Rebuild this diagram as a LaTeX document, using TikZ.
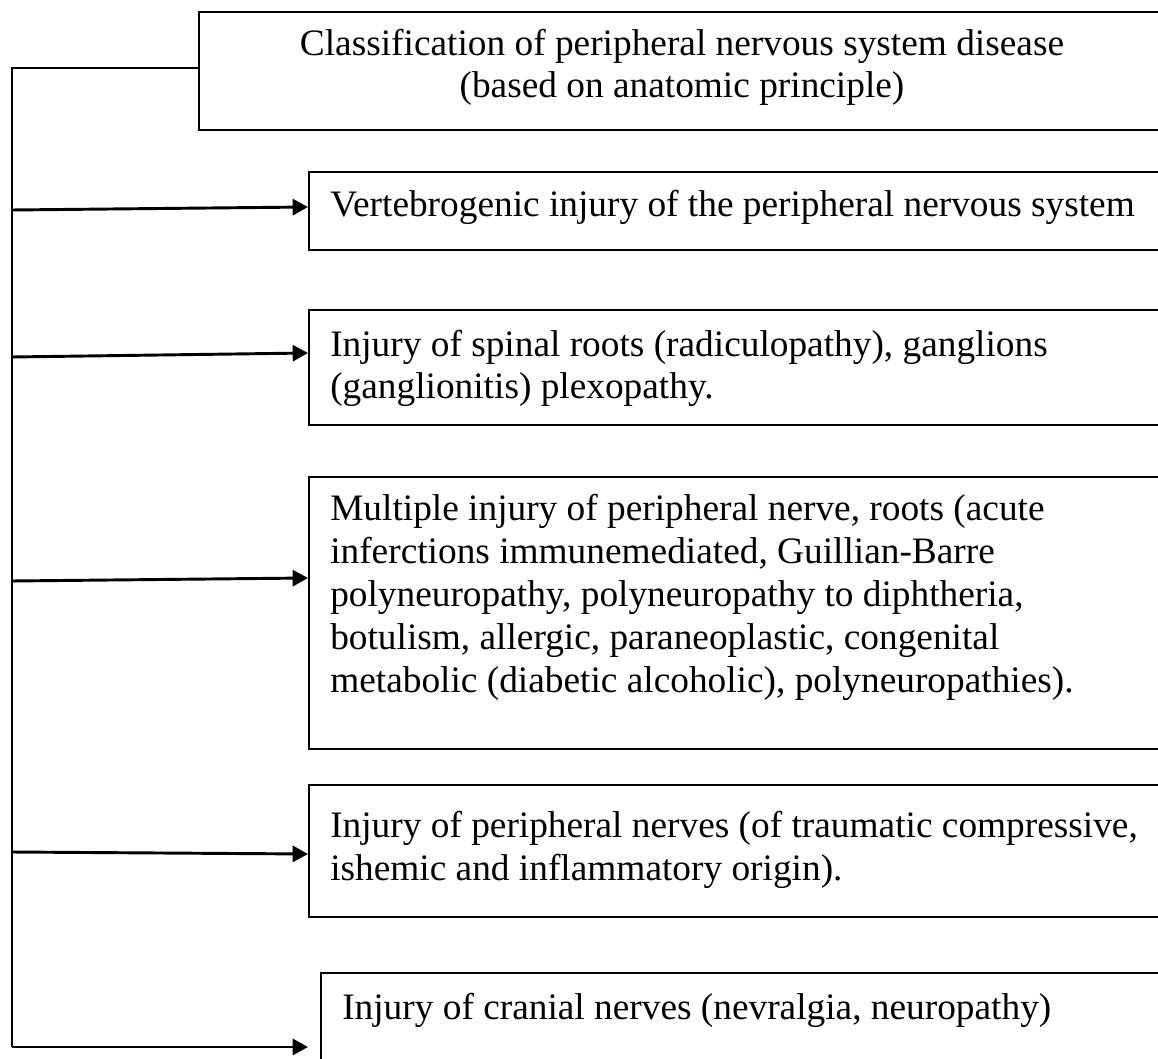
\documentclass[tikz,border=0pt]{standalone}
\usepackage{fontspec}
\setmainfont{Liberation Serif}
\usetikzlibrary{arrows.meta,fit}
\begin{document}
\begin{tikzpicture}[x=0.75pt,y=-0.75pt,
  box/.style={draw, line width=1.5pt, inner sep=0pt},
  label/.style={inner sep=0pt, font=\fontsize{28}{32.2}\selectfont},
  trunk/.style={line width=1.5pt},
  arr/.style={line width=2.2pt, -{Triangle[length=11.5pt,width=12pt]}},
]
\useasboundingbox (0,0) rectangle (1158,1059);
\fill[white] (0,0) rectangle (1158,1059);

% boxes (they run past the right and bottom edges of the page)
\node[box, fit={(199,12) (1200,130)}] (top) {};
\node[box, fit={(309,172) (1200,250)}] (b1) {};
\node[box, fit={(309,310) (1200,425)}] (b2) {};
\node[box, fit={(309,477) (1200,749)}] (b3) {};
\node[box, fit={(309,785) (1200,917)}] (b4) {};
\node[box, fit={(321,973) (1200,1100)}] (b5) {};

% texts (multi-line nodes are placed by the baseline of their last line)
\node[label, align=center, anchor=base] (ttl) at (682,98)
  {Classification of peripheral nervous system disease\\(based on anatomic principle)};
\node[label, align=left, anchor=base west] (t1) at (330,217)
  {Vertebrogenic injury of the peripheral nervous system};
\node[label, align=left, anchor=base west] (t2) at (330,399)
  {Injury of spinal roots (radiculopathy), ganglions\\(ganglionitis) plexopathy.};
\node[label, align=left, anchor=base west] (t3) at (330,692)
  {Multiple injury of peripheral nerve, roots (acute\\
   inferctions immunemediated, Guillian-Barre\\
   polyneuropathy, polyneuropathy to diphtheria,\\
   botulism, allergic, paraneoplastic, congenital\\
   metabolic (diabetic alcoholic), polyneuropathies).};
\node[label, align=left, anchor=base west] (t4) at (330,880)
  {Injury of peripheral nerves (of traumatic compressive,\\ishemic and inflammatory origin).};
\node[label, align=left, anchor=base west] (t5) at (342,1019)
  {Injury of cranial nerves (nevralgia, neuropathy)};

% trunk line on the left
\coordinate (j0) at (12,68);
\coordinate (j1) at (12,210);
\coordinate (j2) at (12,357);
\coordinate (j3) at (12,581);
\coordinate (j4) at (12,852);
\coordinate (j5) at (12,1047);
\coordinate (e5) at (308,1047);

\draw[trunk] (j0 -| top.west) -- (j0) -- (j5);

% branches
\draw[arr] (j1) -- (b1.west |- 0,207);
\draw[arr] (j2) -- (b2.west |- 0,353);
\draw[arr] (j3) -- (b3.west |- 0,578);
\draw[arr] (j4) -- (b4.west |- 0,854);
\draw[arr] (j5) -- (e5);
\end{tikzpicture}
\end{document}
